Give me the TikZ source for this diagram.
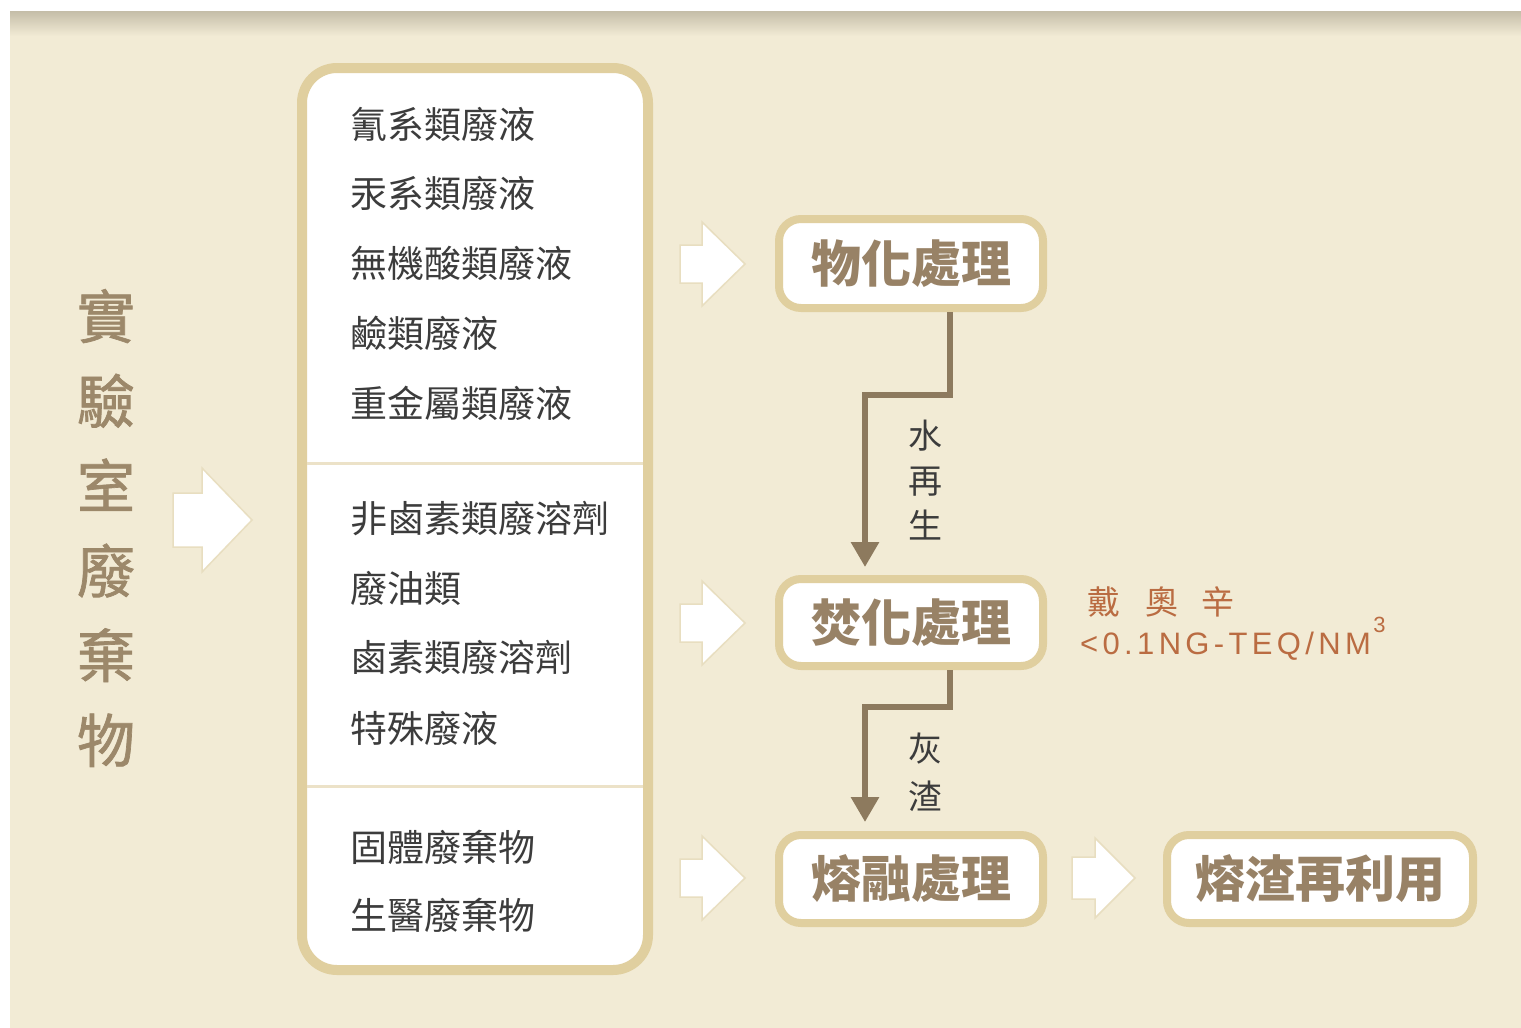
\documentclass[tikz,border=0pt]{standalone}
\usepackage{fontspec}
\setmainfont{Liberation Sans}
\newfontfamily\cjk{Noto Sans CJK TC}
\newfontfamily\cjkmed[FakeBold=1.2]{Noto Sans CJK TC}
\newfontfamily\lsp[LetterSpace=14]{Liberation Sans}
\usetikzlibrary{arrows.meta}
\definecolor{bg}{RGB}{242,235,213}
\definecolor{shadowc}{RGB}{196,189,168}
\definecolor{boxedge}{RGB}{224,207,159}
\definecolor{boxtext}{RGB}{152,130,102}
\definecolor{titlec}{RGB}{156,136,106}
\definecolor{connc}{RGB}{141,122,94}
\definecolor{itemc}{RGB}{60,60,60}
\definecolor{dioxin}{RGB}{186,108,66}
\definecolor{arrowedge}{RGB}{232,222,192}
\definecolor{divc}{RGB}{236,226,200}
\newcommand\fatarrow[6]{%
  \filldraw[wharrow] (#1,#2) -- ({#1-#3},{#2-#4}) -- ({#1-#3},{#2-#6}) -- ({#1-#5},{#2-#6})
    -- ({#1-#5},{#2+#6}) -- ({#1-#3},{#2+#6}) -- ({#1-#3},{#2+#4}) -- cycle;}
\begin{document}
\begin{tikzpicture}[x=1pt,y=-1pt,
  wharrow/.style={fill=white, draw=arrowedge, line width=1.5pt, line join=miter},
  procbox/.style={draw=boxedge, line width=8pt, fill=white, rounded corners=22pt,
    minimum height=89pt, inner sep=0pt, text=boxtext,
    font=\cjk\bfseries\fontsize{50}{50}\selectfont},
  listbox/.style={draw=boxedge, line width=10pt, fill=white, rounded corners=35pt, inner sep=0pt},
  item/.style={anchor=west, inner sep=0pt, text=itemc, font=\cjk\fontsize{37}{37}\selectfont},
  lbl/.style={align=center, inner sep=0pt, text=itemc},
  conn/.style={draw=connc, line width=6pt, line join=miter, -{Triangle[width=27pt,length=25pt]}},
  divider/.style={draw=divc, line width=3pt}
]
\useasboundingbox (0,0) rectangle (1521,1028);
\fill[white] (0,0) rectangle (1521,1028);
\fill[bg] (10,11) rectangle (1521,1028);
\shade[top color=shadowc, bottom color=bg] (10,11) rectangle (1521,36);

% title
\node[align=center, inner sep=0pt, text=titlec, font=\cjkmed\fontsize{58}{84.8}\selectfont] (title) at (106,528)
  {實\\驗\\室\\廢\\棄\\物};

% big arrow
\fatarrow{252}{520}{50}{52}{79}{27}

% list box
\node[listbox, minimum width=346pt, minimum height=902pt] (list) at (475,519) {};
\draw[divider] (307,463) -- (643,463);
\draw[divider] (307,786) -- (643,786);

\node[item] (i1) at (350,124) {氰系類廢液};
\node[item] (i2) at (350,193) {汞系類廢液};
\node[item] (i3) at (350,263) {無機酸類廢液};
\node[item] (i4) at (350,333) {鹼類廢液};
\node[item] (i5) at (350,403) {重金屬類廢液};
\node[item] (i6) at (350,519) {非鹵素類廢溶劑};
\node[item] (i7) at (350,588) {廢油類};
\node[item] (i8) at (350,657) {鹵素類廢溶劑};
\node[item] (i9) at (350,728) {特殊廢液};
\node[item] (i10) at (350,847) {固體廢棄物};
\node[item] (i11) at (350,915) {生醫廢棄物};

% small arrows
\fatarrow{745}{264}{43}{42}{65}{19}
\fatarrow{745}{623}{43}{42}{65}{19}
\fatarrow{745}{878}{43}{42}{65}{19}
\fatarrow{1135}{878}{40}{40}{63}{21}

% process boxes
\node[procbox, minimum width=264pt] (wuhua) at (911,263.5) {物化處理};
\node[procbox, minimum width=264pt, minimum height=87pt] (fenhua) at (911,622.5) {焚化處理};
\node[procbox, minimum width=264pt, minimum height=88pt] (ronghe) at (911,879) {熔融處理};
\node[procbox, minimum width=306pt, minimum height=88pt] (reuse) at (1320,879) {熔渣再利用};

% connectors
\draw[conn] ([xshift=39pt]wuhua.south) -- ++(0,83) -| ([xshift=-46pt,yshift=8pt]fenhua.north);
\draw[conn] ([xshift=39pt]fenhua.south) -- ++(0,37) -| ([xshift=-46pt,yshift=9pt]ronghe.north);

\node[lbl, font=\cjk\fontsize{34}{45}\selectfont] (l1) at (925,480) {水\\再\\生};
\node[lbl, font=\cjk\fontsize{34}{48}\selectfont] (l2) at (925,772) {灰\\渣};

% dioxin
\node[anchor=west, inner sep=0pt, text=dioxin, font=\cjk\fontsize{33}{33}\selectfont] (dx1) at (1087,602)
  {戴\hspace{25pt}奧\hspace{23pt}辛};
\node[anchor=west, inner sep=0pt, text=dioxin, font=\lsp\fontsize{31}{31}\selectfont] (dx2) at (1080,646)
  {<0.1NG-TEQ/NM};
\node[anchor=west, inner sep=0pt, text=dioxin, font=\lsp\fontsize{22}{22}\selectfont] (dx3) at ([xshift=2pt]dx2.east |- 0,625) {3};
\end{tikzpicture}
\end{document}
